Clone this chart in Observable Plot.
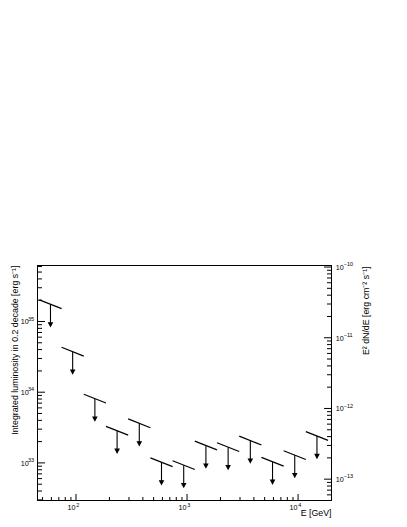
<!DOCTYPE html>
<html>
<head>
<meta charset="utf-8">
<script src="https://cdn.jsdelivr.net/npm/d3@7"></script>
<script src="https://cdn.jsdelivr.net/npm/@observablehq/plot@0.6"></script>
<style>
  body { margin: 0; background: #fff; }
  svg { display: block; }
</style>
</head>
<body>
<div id="chart"></div>
<script>
// ---- data ----
const binCentersGeV = [58.9, 93.3, 147.9, 234.4, 371.5, 588.8, 933.3, 1479, 2344, 3715, 5888, 9333, 14791];
const ulLuminosity  = [1.75e35, 3.74e34, 8.1e33, 2.85e33, 3.63e33, 1.02e33, 9.3e32, 1.76e33, 1.67e33, 2.07e33, 1.04e33, 1.29e33, 2.40e33];
const binHalfWidthDex = 0.1;      // 0.2 decade bins
const ulSlope = -0.62;            // log-log slope of each upper-limit bar
const xDomain = [45, 20000];
const yDomain = [2.94e32, 6.19e35];
const fluxToLum = 10 ** 45.77;    // right axis (flux) -> left axis (luminosity)

const xMajorTicks = [100, 1000, 10000];
const xTickExponents = ["2", "3", "4"];
const yLeftMajorTicks = [1e33, 1e34, 1e35];
const yLeftExponents = ["33", "34", "35"];
const yRightMajorFlux = [1e-10, 1e-11, 1e-12, 1e-13];
const yRightExponents = ["\u221210", "\u221211", "\u221212", "\u221213"];

const leftTitle = "Integrated luminosity in 0.2 decade [erg s\u207B\u00B9]";
const rightTitle = "E\u00B2 dN/dE [erg cm\u207B\u00B2 s\u207B\u00B9]";
const xTitle = "E [GeV]";

// ---- derived ----
const rows = binCentersGeV.map((e, i) => ({e, l: ulLuminosity[i]}));

function minorLogTicks(lo, hi) {
  const out = [];
  for (let p = Math.floor(Math.log10(lo)) - 1; p <= Math.ceil(Math.log10(hi)); p++) {
    for (let k = 2; k <= 9; k++) {
      const v = k * 10 ** p;
      if (v >= lo && v <= hi) out.push(v);
    }
  }
  return out;
}
const xMinor = minorLogTicks(xDomain[0], xDomain[1]);
const yLeftMinor = minorLogTicks(yDomain[0], yDomain[1]);
const yRightMinor = minorLogTicks(yDomain[0] / fluxToLum, yDomain[1] / fluxToLum).map(f => f * fluxToLum);
const yRightMajor = yRightMajorFlux.map(f => f * fluxToLum);

const tickShape = {draw(ctx, l) { ctx.moveTo(0, 0); ctx.lineTo(0, -l); }};
const arrowShape = {draw(ctx, l) {
  const h = 3.6, w = 1.9;
  ctx.moveTo(0, 0); ctx.lineTo(0, -l + h);
  ctx.moveTo(-w, -l + h); ctx.lineTo(0, -l); ctx.lineTo(w, -l + h); ctx.closePath();
}};

const font = "'Liberation Sans', Arial, Helvetica, sans-serif";
const tickOpts = {stroke: "black", strokeWidth: 1, strokeLinecap: "butt", shape: tickShape, anchor: "start"};

const chart = Plot.plot({
  width: 407,
  height: 527,
  marginLeft: 37,
  marginRight: 76,
  marginTop: 265,
  marginBottom: 27,
  style: {fontFamily: font, background: "white", color: "black"},
  x: {type: "log", domain: xDomain, axis: null},
  y: {type: "log", domain: yDomain, axis: null},
  marks: [
    Plot.frame({stroke: "black", strokeWidth: 1}),
    // left axis ticks (inward)
    Plot.vector(yLeftMajorTicks, {...tickOpts, x: xDomain[0], y: d => d, length: 7.5, rotate: 90}),
    Plot.vector(yLeftMinor, {...tickOpts, x: xDomain[0], y: d => d, length: 4.5, rotate: 90}),
    // right axis ticks
    Plot.vector(yRightMajor, {...tickOpts, x: xDomain[1], y: d => d, length: 7.5, rotate: -90}),
    Plot.vector(yRightMinor, {...tickOpts, x: xDomain[1], y: d => d, length: 4.5, rotate: -90}),
    // bottom ticks
    Plot.vector(xMajorTicks, {...tickOpts, x: d => d, y: yDomain[0], length: 6.5, rotate: 0}),
    Plot.vector(xMinor, {...tickOpts, x: d => d, y: yDomain[0], length: 3.5, rotate: 0}),
    // tick labels
    Plot.text(yLeftMajorTicks, {x: xDomain[0], y: d => d, text: () => "10", textAnchor: "end", dx: -8.8, dy: 0.5, fontSize: 7.2}),
    Plot.text(yLeftMajorTicks, {x: xDomain[0], y: d => d, text: (d, i) => yLeftExponents[i], textAnchor: "end", dx: -3.5, dy: -2.5, fontSize: 5.5}),
    Plot.text(yRightMajor, {x: xDomain[1], y: d => d, text: () => "10", textAnchor: "start", dx: 4.2, dy: 0.5, fontSize: 7.2}),
    Plot.text(yRightMajor, {x: xDomain[1], y: d => d, text: (d, i) => yRightExponents[i], textAnchor: "start", dx: 12.2, dy: -2.5, fontSize: 5.5}),
    Plot.text(xMajorTicks, {x: d => d, y: yDomain[0], text: () => "10", textAnchor: "end", dx: -0.6, dy: 7.5, fontSize: 7.2}),
    Plot.text(xMajorTicks, {x: d => d, y: yDomain[0], text: (d, i) => xTickExponents[i], textAnchor: "start", dx: 0.2, dy: 4.5, fontSize: 5.5}),
    // axis titles
    Plot.text([leftTitle], {frameAnchor: "top-left", text: d => d, rotate: -90, textAnchor: "end", dx: -26, dy: 0, fontSize: 8.8}),
    Plot.text([rightTitle], {frameAnchor: "top-right", text: d => d, rotate: -90, textAnchor: "end", dx: 31, dy: 1, fontSize: 8.8}),
    Plot.text([xTitle], {frameAnchor: "bottom-right", text: d => d, textAnchor: "end", dx: 0, dy: 15, fontSize: 8.8}),
    // upper-limit bars
    Plot.link(rows, {
      x1: d => d.e * 10 ** -binHalfWidthDex, x2: d => d.e * 10 ** binHalfWidthDex,
      y1: d => d.l * 10 ** (-ulSlope * binHalfWidthDex), y2: d => d.l * 10 ** (ulSlope * binHalfWidthDex),
      stroke: "black", strokeWidth: 1.2
    }),
    // upper-limit arrows
    Plot.vector(rows, {x: "e", y: "l", length: 22, rotate: 180, anchor: "start", shape: arrowShape,
      stroke: "black", fill: "black", strokeWidth: 1.1, strokeLinecap: "butt", strokeLinejoin: "miter"})
  ]
});
document.getElementById("chart").appendChild(chart);
</script>
</body>
</html>
